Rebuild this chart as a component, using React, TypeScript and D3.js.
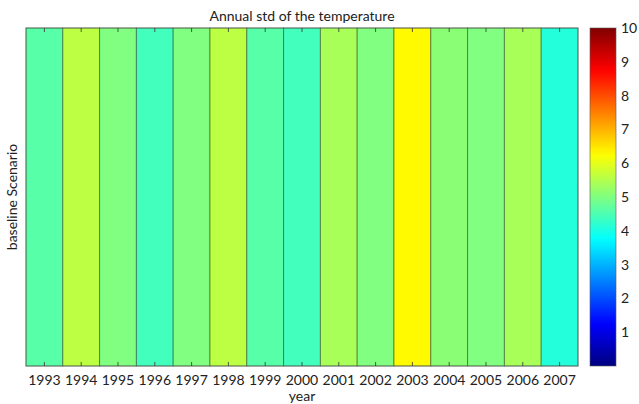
import React from "react";
import * as d3 from "d3";

const years = ["1993","1994","1995","1996","1997","1998","1999","2000","2001","2002","2003","2004","2005","2006","2007"];
const stdValues = [4.6, 5.6, 5.0, 4.4, 5.0, 5.6, 4.6, 4.4, 5.4, 5.0, 6.3, 5.1, 5.0, 5.4, 4.1];
const rowLabel = "baseline Scenario";
const colorTicks = [1, 2, 3, 4, 5, 6, 7, 8, 9, 10];
const colorDomain = [0, 10];

function jet(t: number): string {
  const c = (v: number) => Math.max(0, Math.min(1, v));
  const r = c(1.5 - Math.abs(4 * t - 3));
  const g = c(1.5 - Math.abs(4 * t - 2));
  const b = c(1.5 - Math.abs(4 * t - 1));
  return d3.rgb(r * 255, g * 255, b * 255).formatHex();
}

export default function App() {
  const W = 639, H = 404;
  const left = 26, right = 578, top = 28, bottom = 366;
  const x = d3.scaleBand<string>().domain(years).range([left, right]).padding(0);
  const cScale = d3.scaleLinear().domain(colorDomain).range([0, 1]);
  const cbX = 590, cbW = 26;
  const cbY = d3.scaleLinear().domain(colorDomain).range([bottom, top]);
  const stops = d3.range(0, 1.0001, 0.02);
  const font = "Lato, 'Open Sans', sans-serif";
  return (
    <svg width={W} height={H} style={{ position: "absolute", left: 0, top: 0, background: "#fff" }} fontFamily={font}>
      <defs>
        <linearGradient id="jetg" x1="0" y1="1" x2="0" y2="0">
          {stops.map((s, i) => (
            <stop key={i} offset={s} stopColor={jet(s)} />
          ))}
        </linearGradient>
      </defs>
      {years.map((yr, i) => (
        <rect key={yr} x={x(yr)} y={top} width={x.bandwidth()} height={bottom - top}
          fill={jet(cScale(stdValues[i]))} stroke="rgba(40,70,40,0.55)" strokeWidth={1} />
      ))}
      <rect x={left} y={top} width={right - left} height={bottom - top} fill="none" stroke="rgba(90,90,90,0.6)" strokeWidth={1} />
      {years.map((yr) => {
        const cx = (x(yr) as number) + x.bandwidth() / 2;
        return (
          <g key={"t" + yr}>
            <line x1={cx} x2={cx} y1={top} y2={top + 4} stroke="#333" strokeWidth={0.8} />
            <line x1={cx} x2={cx} y1={bottom} y2={bottom - 4} stroke="#333" strokeWidth={0.8} />
            <text x={cx} y={385} textAnchor="middle" fontSize={14} fill="#222">{yr}</text>
          </g>
        );
      })}
      <text x={(left + right) / 2} y={21} textAnchor="middle" fontSize={14} fill="#222">Annual std of the temperature</text>
      <text x={(left + right) / 2} y={401} textAnchor="middle" fontSize={14} fill="#222">year</text>
      <text transform={`translate(17,${(top + bottom) / 2}) rotate(-90)`} textAnchor="middle" fontSize={14} fill="#222">{rowLabel}</text>
      <rect x={cbX} y={top} width={cbW} height={bottom - top} fill="url(#jetg)" stroke="rgba(90,90,90,0.6)" strokeWidth={1} />
      {colorTicks.map((t) => (
        <text key={"c" + t} x={cbX + cbW + 5} y={cbY(t) + 5} fontSize={14} fill="#222">{t}</text>
      ))}
    </svg>
  );
}
